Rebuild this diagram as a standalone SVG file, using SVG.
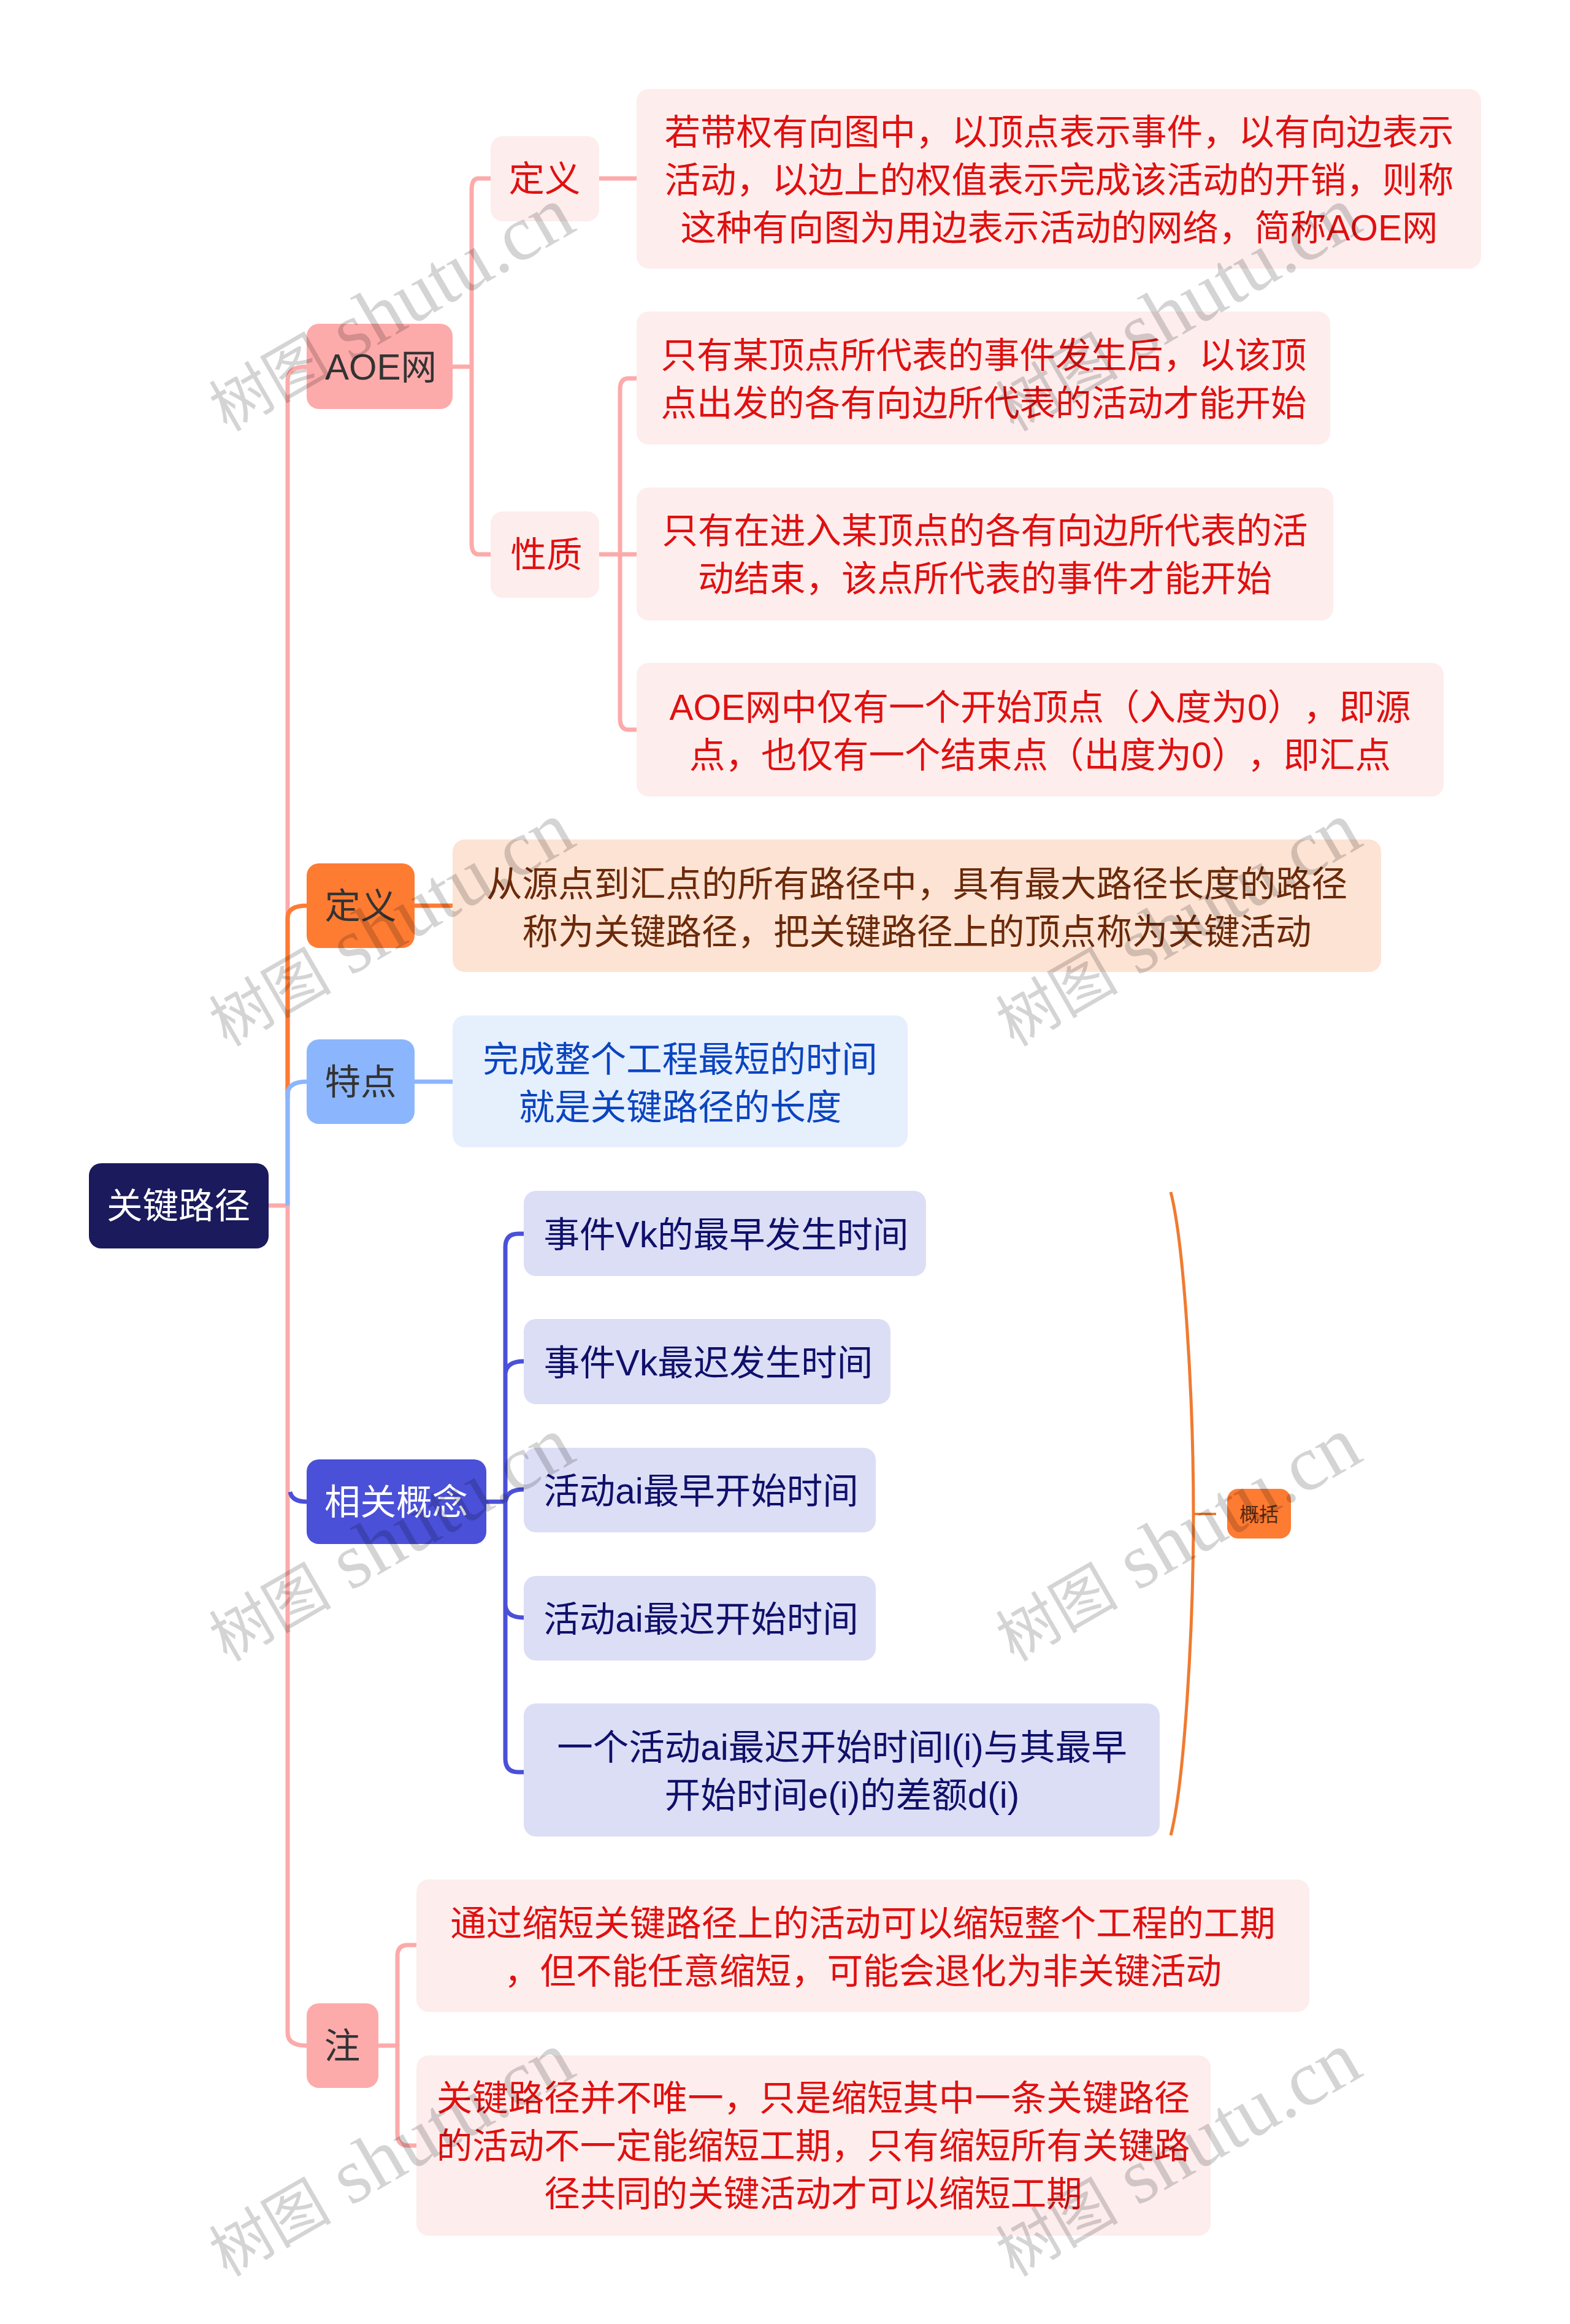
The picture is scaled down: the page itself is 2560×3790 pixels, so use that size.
<svg xmlns="http://www.w3.org/2000/svg" width="2560" height="3790" viewBox="0 0 2560 3790">
<style>
text{font-family:"Liberation Sans","Noto Sans CJK SC",sans-serif;font-size:58.5px;text-anchor:middle;text-spacing-trim:space-all}
.c{fill:none;stroke-width:7;stroke-linecap:butt}
.p{stroke:#fdaaaa}.o{stroke:#fe7b32}.b{stroke:#8bb6fd}.i{stroke:#4a50d8}
.lr{fill:#fdeded}.lr text{fill:#e01010}
.wm{font-family:"Liberation Serif","Noto Sans CJK SC",serif;font-size:128px;fill:#000;fill-opacity:.17;text-anchor:start}
.wm .h{font-size:100px}
</style>
<rect width="2560" height="3790" fill="#fff"/>
<g id="connectors">
<path class="c p" d="M438 1966H469M469 3315V620Q469 598 500 598M469 3315Q469 3336 500 3336"/>
<path class="c p" d="M738 598H769M800 291H780Q769 291 769 310V885Q769 904 780 904H800M977 291H1038"/>
<path class="c p" d="M975 904H1038M1038 617H1025Q1011 617 1011 635V1172Q1011 1190 1025 1190H1038"/>
<path class="c o" d="M469 1790V1497Q469 1477 500 1477M676 1477H738"/>
<path class="c b" d="M469 1966V1785Q469 1764 500 1764M676 1764H738"/>
<path class="c i" d="M473 2433Q476 2449 500 2449"/>
<path class="c i" d="M793 2449H824M854 2012H845Q824 2012 824 2034V2868Q824 2890 845 2890H854M824 2240Q826 2220 854 2220M824 2449Q826 2429 854 2429M824 2618Q826 2638 854 2638"/>
<path class="c p" d="M617 3336H648M679 3172H665Q648 3172 648 3190V3480Q648 3499 665 3499H679"/>
<path d="M1909 1944C1931 2030 1946 2280 1946 2469C1946 2658 1931 2908 1909 2993" fill="none" stroke="#f07a30" stroke-width="5"/>
<path d="M1946 2469H1983" fill="none" stroke="#f07a30" stroke-width="4"/>
</g>
<g id="root"><rect x="145" y="1897" width="293" height="139" rx="20" fill="#1a1a5c"/><text x="291" y="1987" fill="#fff">关键路径</text></g>
<g id="aoe"><rect x="500" y="528" width="238" height="139" rx="20" fill="#fdaaaa"/><text x="621" y="619" fill="#333">AOE网</text></g>
<g id="aoe-def" class="lr"><rect x="800" y="222" width="177" height="139" rx="20"/><text x="888" y="312">定义</text></g>
<g id="aoe-def-text" class="lr"><rect x="1038" y="145" width="1377" height="293" rx="20"/><text x="1727" y="236">若带权有向图中，以顶点表示事件，以有向边表示</text><text x="1727" y="314">活动，以边上的权值表示完成该活动的开销，则称</text><text x="1727" y="392">这种有向图为用边表示活动的网络，简称AOE网</text></g>
<g id="aoe-prop" class="lr"><rect x="800" y="834" width="177" height="141" rx="20"/><text x="891" y="925">性质</text></g>
<g id="prop-1" class="lr"><rect x="1038" y="508" width="1131" height="217" rx="20"/><text x="1604" y="600">只有某顶点所代表的事件发生后，以该顶</text><text x="1604" y="678">点出发的各有向边所代表的活动才能开始</text></g>
<g id="prop-2" class="lr"><rect x="1038" y="795" width="1136" height="217" rx="20"/><text x="1606" y="886">只有在进入某顶点的各有向边所代表的活</text><text x="1606" y="964">动结束，该点所代表的事件才能开始</text></g>
<g id="prop-3" class="lr"><rect x="1038" y="1081" width="1316" height="218" rx="20"/><text x="1696" y="1174">AOE网中仅有一个开始顶点（入度为0），即源</text><text x="1696" y="1252">点，也仅有一个结束点（出度为0），即汇点</text></g>
<g id="def"><rect x="500" y="1408" width="176" height="138" rx="20" fill="#fe7b32"/><text x="588" y="1498" fill="#333">定义</text></g>
<g id="def-text"><rect x="738" y="1369" width="1514" height="216" rx="20" fill="#fde3d3"/><text x="1495" y="1462" fill="#6b2a0a">从源点到汇点的所有路径中，具有最大路径长度的路径</text><text x="1495" y="1540" fill="#6b2a0a">称为关键路径，把关键路径上的顶点称为关键活动</text></g>
<g id="feat"><rect x="500" y="1695" width="176" height="138" rx="20" fill="#8bb6fd"/><text x="588" y="1785" fill="#333">特点</text></g>
<g id="feat-text"><rect x="738" y="1656" width="742" height="215" rx="20" fill="#e6effc"/><text x="1109" y="1748" fill="#0a44c0">完成整个工程最短的时间</text><text x="1109" y="1826" fill="#0a44c0">就是关键路径的长度</text></g>
<g id="concept"><rect x="500" y="2380" width="293" height="138" rx="20" fill="#4a50d8"/><text x="646" y="2470" fill="#fff">相关概念</text></g>
<g id="c1"><rect x="854" y="1942" width="656" height="139" rx="20" fill="#dcdef6"/><text x="1184" y="2034" fill="#10106a">事件Vk的最早发生时间</text></g>
<g id="c2"><rect x="854" y="2151" width="598" height="139" rx="20" fill="#dcdef6"/><text x="1155" y="2243" fill="#10106a">事件Vk最迟发生时间</text></g>
<g id="c3"><rect x="854" y="2361" width="574" height="138" rx="20" fill="#dcdef6"/><text x="1143" y="2452" fill="#10106a">活动ai最早开始时间</text></g>
<g id="c4"><rect x="854" y="2570" width="574" height="138" rx="20" fill="#dcdef6"/><text x="1143" y="2661" fill="#10106a">活动ai最迟开始时间</text></g>
<g id="c5"><rect x="854" y="2778" width="1037" height="217" rx="20" fill="#dcdef6"/><text x="1373" y="2870" fill="#10106a">一个活动ai最迟开始时间l(i)与其最早</text><text x="1373" y="2948" fill="#10106a">开始时间e(i)的差额d(i)</text></g>
<g id="summary"><rect x="2001" y="2428" width="104" height="81" rx="18" fill="#fe7b32"/><text x="2053" y="2481" fill="#5a2a10" style="font-size:32px">概括</text></g>
<g id="note"><rect x="500" y="3267" width="117" height="138" rx="20" fill="#fdaaaa"/><text x="558" y="3357" fill="#333">注</text></g>
<g id="note-1" class="lr"><rect x="679" y="3065" width="1456" height="216" rx="20"/><text x="1407" y="3157">通过缩短关键路径上的活动可以缩短整个工程的工期</text><text x="1407" y="3235">，但不能任意缩短，可能会退化为非关键活动</text></g>
<g id="note-2" class="lr"><rect x="679" y="3352" width="1295" height="294" rx="20"/><text x="1326" y="3442">关键路径并不唯一，只是缩短其中一条关键路径</text><text x="1326" y="3520">的活动不一定能缩短工期，只有缩短所有关键路</text><text x="1326" y="3598">径共同的关键活动才可以缩短工期</text></g>
<g id="watermarks">
<text class="wm" transform="translate(370 705) rotate(-30)"><tspan class="h">树图</tspan> shutu.cn</text>
<text class="wm" transform="translate(1653 705) rotate(-30)"><tspan class="h">树图</tspan> shutu.cn</text>
<text class="wm" transform="translate(370 1708) rotate(-30)"><tspan class="h">树图</tspan> shutu.cn</text>
<text class="wm" transform="translate(1653 1708) rotate(-30)"><tspan class="h">树图</tspan> shutu.cn</text>
<text class="wm" transform="translate(370 2711) rotate(-30)"><tspan class="h">树图</tspan> shutu.cn</text>
<text class="wm" transform="translate(1653 2711) rotate(-30)"><tspan class="h">树图</tspan> shutu.cn</text>
<text class="wm" transform="translate(370 3714) rotate(-30)"><tspan class="h">树图</tspan> shutu.cn</text>
<text class="wm" transform="translate(1653 3714) rotate(-30)"><tspan class="h">树图</tspan> shutu.cn</text>
</g>
</svg>
